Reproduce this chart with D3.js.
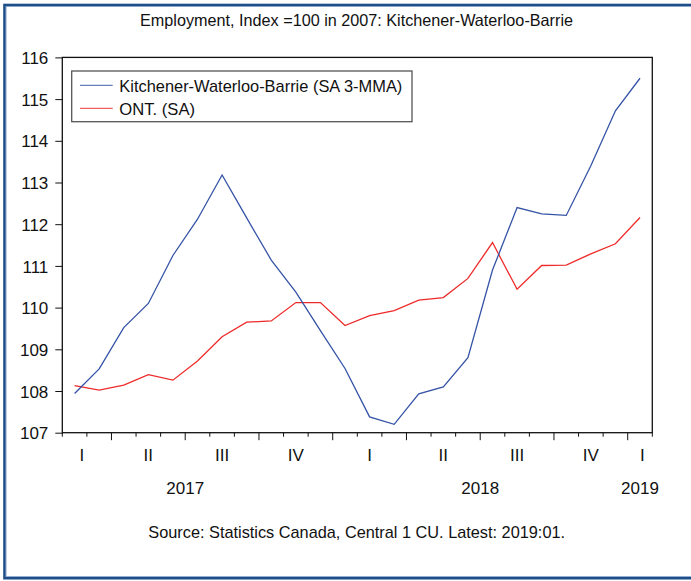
<!DOCTYPE html>
<html>
<head>
<meta charset="utf-8">
<script src="https://cdn.jsdelivr.net/npm/d3@7"></script>
<style>
  html, body { margin: 0; padding: 0; background: #fff; }
  svg { display: block; font-family: "Liberation Sans", Arial, sans-serif; }
</style>
</head>
<body>
<svg id="chart" width="691" height="581"></svg>
<script>
// ---- data ----
const months = ["2017:02","2017:03","2017:04","2017:05","2017:06","2017:07","2017:08","2017:09","2017:10","2017:11","2017:12",
                "2018:01","2018:02","2018:03","2018:04","2018:05","2018:06","2018:07","2018:08","2018:09","2018:10","2018:11","2018:12",
                "2019:01"];
const kwb = [107.94,108.53,109.52,110.10,111.25,112.12,113.18,112.15,111.14,110.37,109.45,108.54,
             107.38,107.20,107.93,108.10,108.80,110.90,112.40,112.25,112.21,113.40,114.72,115.50];
const ont = [108.13,108.02,108.14,108.39,108.26,108.72,109.30,109.65,109.68,110.12,110.12,109.57,
             109.81,109.93,110.18,110.24,110.70,111.56,110.44,111.01,111.02,111.29,111.53,112.16];
const yTicks = [107,108,109,110,111,112,113,114,115,116];
const quarterLabels = ["I","II","III","IV","I","II","III","IV","I"];
const quarterPos = [0.3,3,6,9,12,15,18,21,23.1];      // in month-index units
const yearLabels = ["2017","2018","2019"];
const yearPos = [4.5,16.5,23];
const seriesNames = ["Kitchener-Waterloo-Barrie (SA 3-MMA)","ONT. (SA)"];
const titleText = "Employment, Index =100 in 2007: Kitchener-Waterloo-Barrie";
const sourceText = "Source: Statistics Canada, Central 1 CU. Latest: 2019:01.";

// ---- layout ----
const L = 62.3, R = 652.3, T = 57.4, B = 432.7;
const svg = d3.select("#chart");
const blue = "#3553a6", red = "#ee2a2a";

const x = d3.scaleLinear().domain([-0.5, months.length - 0.5]).range([L, R]);
const y = d3.scaleLinear().domain([107, 116]).range([B, T]);

// outer frame
svg.append("rect").attr("x", 4.5).attr("y", 5).attr("width", 700).attr("height", 573.2)
  .attr("fill", "none").attr("stroke", "#1f4d88").attr("stroke-width", 2.6);
svg.append("rect").attr("x", 6.1).attr("y", 6.6).attr("width", 700).attr("height", 570)
  .attr("fill", "none").attr("stroke", "#7f9fcc").attr("stroke-width", 0.8);

// title
svg.append("text").attr("x", 356.5).attr("y", 26).attr("text-anchor", "middle")
  .attr("font-size", 16.5).attr("fill", "#111")
  .attr("textLength", 433).attr("lengthAdjust", "spacingAndGlyphs").text(titleText);

// y axis
const yAxis = svg.append("g").attr("transform", `translate(${L},0)`)
  .call(d3.axisLeft(y).tickValues(yTicks).tickSize(7).tickPadding(7).tickFormat(d3.format("d")));
yAxis.select(".domain").remove();
yAxis.selectAll("line").attr("stroke", "#111").attr("stroke-width", 1);
yAxis.selectAll("text").attr("font-size", 17).attr("fill", "#111")
  .attr("font-family", "'Liberation Sans', Arial, sans-serif").attr("dy", "0.36em");

// x ticks
const bounds = d3.range(months.length + 1).map(i => i - 0.5);
const xt = svg.append("g");
bounds.forEach(b => {
  const idx = b + 0.5;
  const m = idx < months.length ? +months[idx].split(":")[1] : null;
  const major = m !== null && (m === 1 || m === 4 || m === 7 || m === 10);
  xt.append("line").attr("x1", x(b)).attr("x2", x(b)).attr("y1", B).attr("y2", B + (major ? 7.5 : 4))
    .attr("stroke", "#111").attr("stroke-width", 1);
});
svg.append("g").selectAll("text").data(quarterLabels).join("text")
  .attr("x", (d, i) => x(quarterPos[i])).attr("y", 460.7).attr("text-anchor", "middle")
  .attr("font-size", 17).attr("fill", "#111").text(d => d);
svg.append("g").selectAll("text").data(yearLabels).join("text")
  .attr("x", (d, i) => x(yearPos[i])).attr("y", 494).attr("text-anchor", "middle")
  .attr("font-size", 17).attr("fill", "#111").text(d => d);

// lines
const line = d3.line().x((d, i) => x(i)).y(d => y(d));
svg.append("path").datum(ont).attr("d", line).attr("fill", "none").attr("stroke", red).attr("stroke-width", 1.3);
svg.append("path").datum(kwb).attr("d", line).attr("fill", "none").attr("stroke", blue).attr("stroke-width", 1.3);

// plot box
svg.append("rect").attr("x", L).attr("y", T).attr("width", R - L).attr("height", B - T)
  .attr("fill", "none").attr("stroke", "#111").attr("stroke-width", 1.3);

// legend
const lg = svg.append("g");
lg.append("rect").attr("x", 71.7).attr("y", 71).attr("width", 340.3).attr("height", 50.7)
  .attr("fill", "#fff").attr("stroke", "#555").attr("stroke-width", 1.3);
const legendColors = [blue, red];
const legendWidths = [283, 75.7];
seriesNames.forEach((n, i) => {
  const ly = 85.3 + i * 23;
  lg.append("line").attr("x1", 80).attr("x2", 112.7).attr("y1", ly).attr("y2", ly)
    .attr("stroke", legendColors[i]).attr("stroke-width", 1.3).attr("opacity", 0.75);
  lg.append("text").attr("x", 119.3).attr("y", ly + 6.2).attr("font-size", 17).attr("fill", "#111")
    .attr("textLength", legendWidths[i]).attr("lengthAdjust", "spacingAndGlyphs").text(n);
});

// source
svg.append("text").attr("x", 356.7).attr("y", 537.7).attr("text-anchor", "middle")
  .attr("font-size", 17).attr("fill", "#111")
  .attr("textLength", 416.7).attr("lengthAdjust", "spacingAndGlyphs").text(sourceText);
</script>
</body>
</html>
